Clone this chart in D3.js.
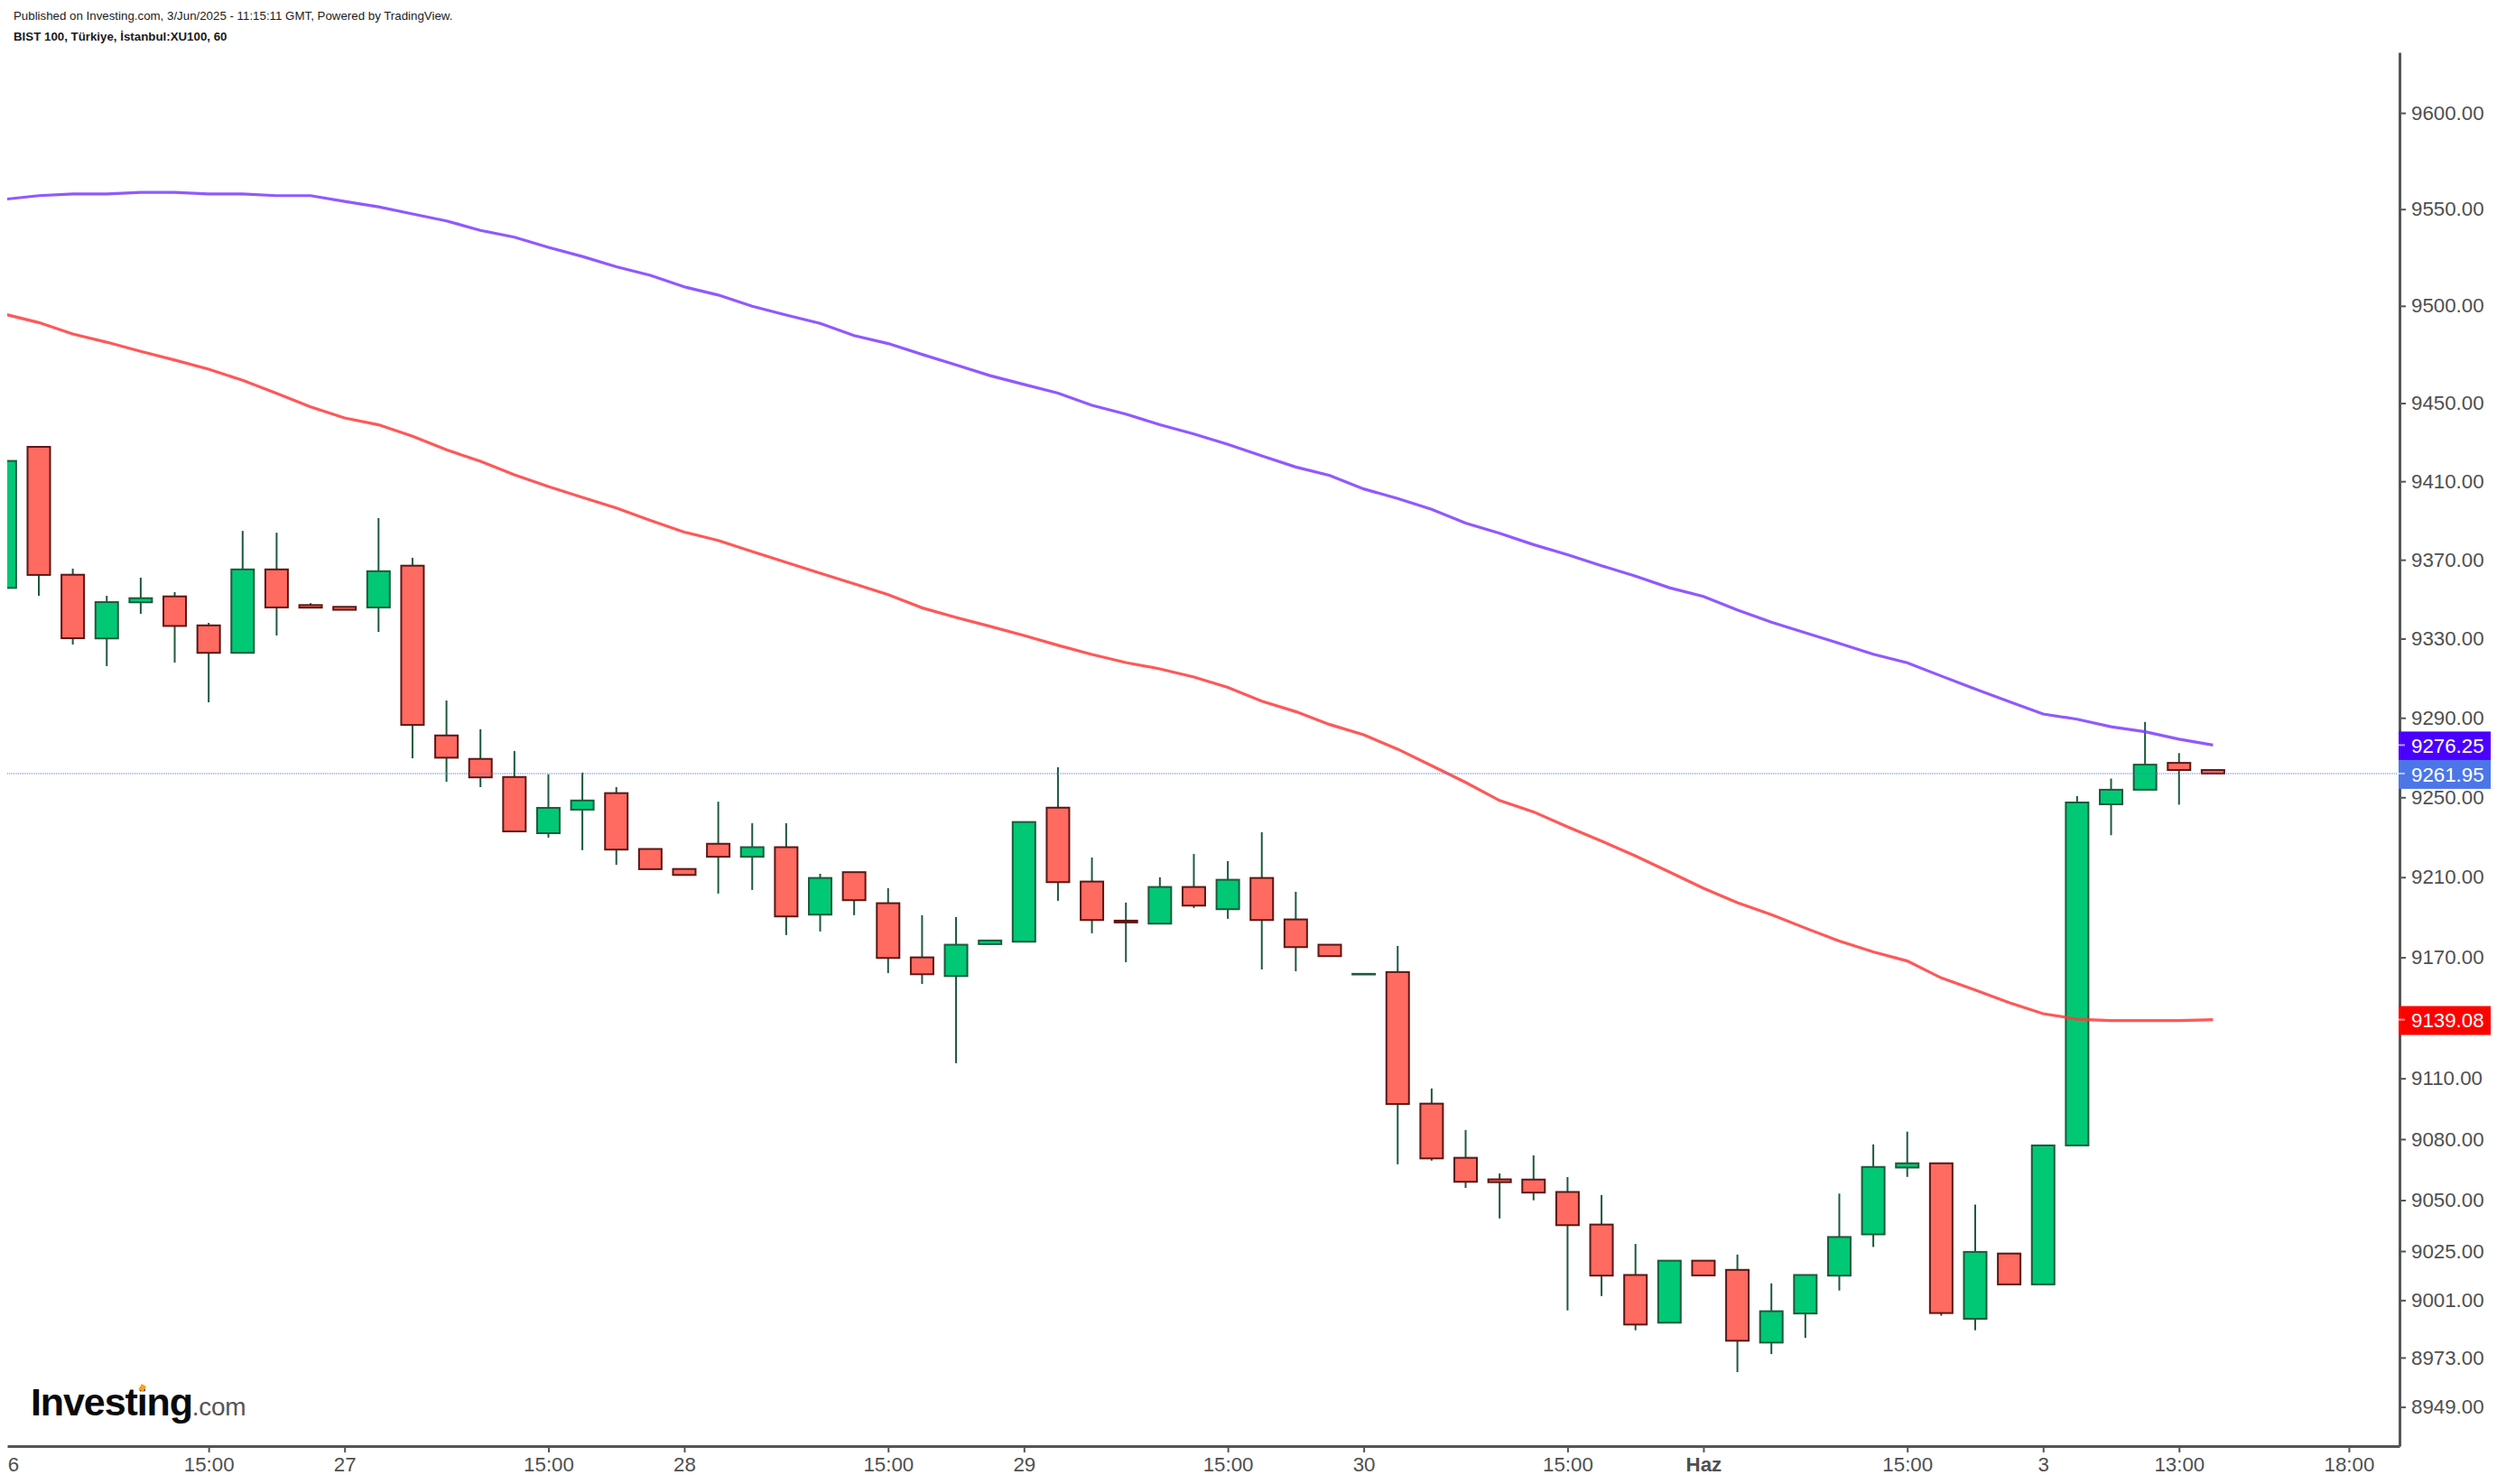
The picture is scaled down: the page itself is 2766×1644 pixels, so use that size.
<!DOCTYPE html>
<html>
<head>
<meta charset="utf-8">
<script src="https://cdn.jsdelivr.net/npm/d3@7"></script>
<style>
  html, body { margin: 0; padding: 0; background: #fff; }
  svg { display: block; font-family: "Liberation Sans", Arial, sans-serif; }
</style>
</head>
<body>
<div id="my_dataviz"></div>
<script>
// Hourly candles, 26 May - 3 Jun 2025
var opens = [9355.7,9427.6,9362.4,9330.1,9348.4,9351.4,9336.7,9322.8,9365.1,9347,9346.1,9345.8,9367,9281.1,9269.3,9260.2,9232,9243.8,9252.1,9224.1,
    9214.1,9226.7,9220.2,9225,9191.3,9212.5,9197,9170,9160.7,9176.6,9177.8,9244.8,9207.8,9188.3,9186.8,9205.1,9194,9209.6,9188.9,9176.3,
    9161.5,9162.7,9097.5,9070.8,9060.2,9060.1,9054,9038,9013.3,8990,9020.3,9015.8,8980.3,8994.5,9013,9033.2,9066,9068.1,8991.9,9023.8,
    9008.7,9076.9,9246.5,9253.8,9267.3,9263.7];
var highs = [9420.4,9427.6,9365.5,9351.7,9360.9,9353.6,9338,9384.7,9383.8,9348,9346.1,9391.2,9371,9298.7,9284.2,9273.3,9261.5,9262.4,9255.1,9224.1,
    9214.1,9247.8,9237,9237,9211.7,9212.5,9204.5,9191,9190.1,9178.4,9237.6,9265.1,9219.8,9197.3,9209.9,9221.6,9218,9232.5,9202.7,9176.3,
    9161.8,9175.7,9105,9084.5,9063.1,9072,9061.3,9052.5,9028.5,9020.3,9020.3,9023.3,9009.2,9013.3,9053.2,9077.4,9083.7,9068.1,9047.8,9023.8,
    9076.9,9250.6,9259.4,9287.9,9272.2,9263.7];
var lows = [9355.7,9351.7,9327,9316.1,9342.6,9317.9,9297.8,9322.8,9331.6,9345.7,9344.6,9333.4,9269.6,9257.8,9255.1,9232.9,9229.8,9223.5,9216.2,9214,
    9211.1,9201.8,9203.6,9181.1,9182.9,9191,9162.2,9156.8,9117.5,9176.6,9177.8,9198.2,9182,9167.6,9186.8,9194.6,9189.2,9164,9163.1,9170.6,
    9161.5,9067.6,9069.4,9056,9041,9049.9,8996,9003,8986.3,8990,9013.1,8965.9,8974.7,8982.6,9005.7,9027,9061.4,8993.4,8986.3,9008.7,
    9008.7,9076.9,9231,9253.8,9246.3,9261.95];
var closes = [9420.4,9362.3,9330.2,9348.5,9350.5,9336.4,9322.8,9365.1,9345.8,9345.7,9344.6,9364.2,9286.4,9269.9,9260,9232.9,9244.7,9248.4,9223.8,9214,
    9211.1,9220.2,9225,9190.4,9209.6,9198.5,9169.7,9161.6,9176.3,9178.4,9237.6,9207.5,9188.6,9187.4,9205.1,9195.8,9208.7,9188.6,9175.1,9170.6,
    9161.8,9097.3,9070.5,9059,9058.8,9053.7,9037.7,9013,8989.1,9020.3,9013.1,8981.2,8995.6,9013.3,9031.9,9066.3,9068.1,8994.7,9024.6,9008.7,
    9076.9,9247.4,9253.8,9266.4,9263.7,9261.95];

// Moving averages, one value per candle
var purpleLine = [9555.1,9557,9557.9,9557.9,9558.7,9558.7,9557.9,9557.9,9557,9557,9554,9551.2,9547.5,9543.9,9539,9535.5,9530.2,9525.5,9520.2,9515.8,
    9509.8,9505.6,9499.8,9495.3,9491,9484.7,9480.6,9475,9469.6,9464.1,9459.6,9455.1,9448.9,9444.4,9438.9,9434.2,9428.9,9423,9417.3,9413,
    9406.1,9401.2,9395.7,9388.7,9383.5,9377.7,9372.6,9367,9361.7,9355.8,9351.4,9344.5,9338.3,9333,9327.6,9322.1,9317.8,9311.1,9304.5,9298.2,
    9291.9,9289.3,9285.5,9283,9279.2,9276.25];
var redLine = [9495.7,9491.4,9485.5,9481.3,9476.6,9472.1,9467.4,9461.7,9455,9448.1,9442.4,9438.9,9433,9426.1,9420.2,9413.3,9407.3,9401.8,9396.4,9390,
    9384.1,9379.8,9374.2,9368.7,9363.2,9357.8,9352.3,9345.6,9340.7,9336.2,9331.6,9326.6,9322,9317.9,9314.7,9310.6,9305.3,9298.4,9293.1,9286.6,
    9281.4,9274.2,9265.9,9257.5,9248.4,9242.7,9235.2,9228.1,9220.6,9212.6,9204.5,9197.3,9191.3,9184.6,9178.1,9172.7,9168.2,9159.8,9153.8,9147.5,
    9142,9139.3,9138.6,9138.6,9138.6,9139.08];

// Axis ticks
var priceTicks = [9600,9550,9500,9450,9410,9370,9330,9290,9250,9210,9170,9110,9080,9050,9025,9001,8973,8949];
var timeTickBars = [0,6,10,16,20,26,30,36,40,46,50,56,60,64,69];
var timeTickLabels = ["6","15:00","27","15:00","28","15:00","29","15:00","30","15:00","Haz","15:00","3","13:00","18:00"];

// Last-value labels on the price axis
var priceTags = [
    { value: 9276.25, color: "#4a00ff" },
    { value: 9261.95, color: "#4c76e8" },
    { value: 9139.08, color: "#ff0000" }
];
var lastPrice = 9261.95;

function visualize() {
    var W = 2766, H = 1644,
        plotLeft = 8, plotRight = 2658, plotTop = 58, plotBottom = 1602,
        bodyW = 25;

    var svg = d3.select("#my_dataviz").append("svg")
        .attr("width", W)
        .attr("height", H);

    svg.append("defs").append("clipPath").attr("id", "plot-clip")
        .append("rect")
        .attr("x", plotLeft).attr("y", 0)
        .attr("width", W - plotLeft).attr("height", H);

    // One bar is 37.63px wide, bar 0 sits just left of the plot
    var x = d3.scaleLinear()
        .domain([0.07, 70.49])
        .range([plotLeft, plotRight]);

    // The price axis is logarithmic
    var y = d3.scaleLog()
        .domain([9631.6, 8930])
        .range([plotTop, plotBottom]);

    var candles = opens.map(function(o, i) {
        return { i: i, open: o, high: highs[i], low: lows[i], close: closes[i], up: closes[i] >= o };
    });

    var plot = svg.append("g").attr("clip-path", "url(#plot-clip)");

    // Wicks
    plot.selectAll(".wick")
        .data(candles)
        .enter()
        .append("line")
        .attr("class", "wick")
        .attr("x1", function(d) { return x(d.i); })
        .attr("x2", function(d) { return x(d.i); })
        .attr("y1", function(d) { return y(d.high); })
        .attr("y2", function(d) { return y(d.low); })
        .attr("stroke", "#1d5a3c")
        .attr("stroke-width", 2);

    // Bodies
    plot.selectAll(".body")
        .data(candles)
        .enter()
        .append("rect")
        .attr("class", "body")
        .attr("x", function(d) { return x(d.i) - bodyW / 2; })
        .attr("width", bodyW)
        .attr("y", function(d) { return y(Math.max(d.open, d.close)); })
        .attr("height", function(d) { return Math.abs(y(d.open) - y(d.close)); })
        .attr("fill", function(d) { return d.up ? "#00c875" : "#ff6a61"; })
        .attr("stroke", function(d) { return d.up ? "#1d5a3c" : "#5c1714"; })
        .attr("stroke-width", 2);

    // Moving average lines
    var line = d3.line()
        .x(function(d, i) { return x(i); })
        .y(function(d) { return y(d); });

    plot.append("path")
        .attr("d", line(purpleLine))
        .attr("fill", "none")
        .attr("stroke", "#7d3cff")
        .attr("stroke-opacity", 0.85)
        .attr("stroke-width", 3.2);

    plot.append("path")
        .attr("d", line(redLine))
        .attr("fill", "none")
        .attr("stroke", "#ff3b3b")
        .attr("stroke-opacity", 0.85)
        .attr("stroke-width", 3.2);

    // Last price line
    svg.append("line")
        .attr("x1", plotLeft)
        .attr("x2", plotRight - 3)
        .attr("y1", y(lastPrice))
        .attr("y2", y(lastPrice))
        .attr("stroke", "#4c76e8")
        .attr("stroke-opacity", 0.5)
        .attr("stroke-width", 2)
        .attr("stroke-dasharray", "1 1");

    // Axes
    var yAxis = svg.append("g")
        .attr("transform", "translate(" + plotRight + ",0)")
        .call(d3.axisRight(y)
            .tickValues(priceTicks)
            .tickFormat(d3.format(".2f"))
            .tickSize(7)
            .tickSizeOuter(0)
            .tickPadding(6));

    var xAxis = svg.append("g")
        .attr("transform", "translate(0," + plotBottom + ")")
        .call(d3.axisBottom(x)
            .tickValues(timeTickBars)
            .tickFormat(function(d, i) { return timeTickLabels[i]; })
            .tickSize(7)
            .tickSizeOuter(0)
            .tickPadding(5));

    [yAxis, xAxis].forEach(function(axis) {
        axis.select(".domain").attr("stroke", "#555555").attr("stroke-width", 3);
        axis.selectAll(".tick line").attr("stroke", "#555555").attr("stroke-width", 2);
        axis.selectAll("text")
            .attr("fill", "#4f4f4f")
            .style("font-family", '"Liberation Sans", Arial, sans-serif')
            .style("font-size", "22.3px");
    });

    // The first tick is left of the plot, only the end of its label shows
    var firstTick = xAxis.selectAll(".tick").filter(function(d) { return d === 0; });
    firstTick.select("line").remove();
    firstTick.select("text").attr("text-anchor", "start").attr("x", 3);

    xAxis.selectAll("text")
        .filter(function(d) { return d === 50; })
        .style("font-weight", "bold");

    // Price tags
    var tags = svg.selectAll(".tag")
        .data(priceTags)
        .enter()
        .append("g")
        .attr("class", "tag")
        .attr("transform", function(d) { return "translate(" + (plotRight - 1) + "," + y(d.value) + ")"; });

    tags.append("rect")
        .attr("x", 0)
        .attr("y", -15)
        .attr("width", 102)
        .attr("height", 32)
        .attr("fill", function(d) { return d.color; });

    tags.append("line")
        .attr("x1", 0)
        .attr("x2", 7)
        .attr("stroke", "#ffffff")
        .attr("stroke-opacity", 0.6)
        .attr("stroke-width", 2);

    tags.append("text")
        .attr("x", 14)
        .attr("y", 1)
        .attr("dy", "0.35em")
        .attr("fill", "#ffffff")
        .style("font-size", "22.3px")
        .text(function(d) { return d.value.toFixed(2); });

    // Header
    svg.append("text")
        .attr("x", 15).attr("y", 22)
        .attr("fill", "#1a1a1a")
        .style("font-size", "13.3px")
        .text("Published on Investing.com, 3/Jun/2025 - 11:15:11 GMT, Powered by TradingView.");

    svg.append("text")
        .attr("x", 15).attr("y", 45)
        .attr("fill", "#1a1a1a")
        .style("font-size", "13.3px")
        .style("font-weight", "bold")
        .text("BIST 100, Türkiye, İstanbul:XU100, 60");

    // Logo
    var logo = svg.append("text")
        .attr("x", 34).attr("y", 1568)
        .style("font-size", "43px")
        .style("font-weight", "bold")
        .style("letter-spacing", "-1.1px")
        .attr("fill", "#0a0a0a");
    logo.append("tspan").text("Investing");
    logo.append("tspan")
        .attr("fill", "#555555")
        .style("font-size", "28px")
        .style("font-weight", "normal")
        .style("letter-spacing", "-0.3px")
        .text(".com");

    svg.append("rect")
        .attr("x", 155).attr("y", 1534)
        .attr("width", 6).attr("height", 7)
        .attr("transform", "rotate(30 158 1537)")
        .attr("fill", "#f7a21b");
}

visualize();
</script>
</body>
</html>
